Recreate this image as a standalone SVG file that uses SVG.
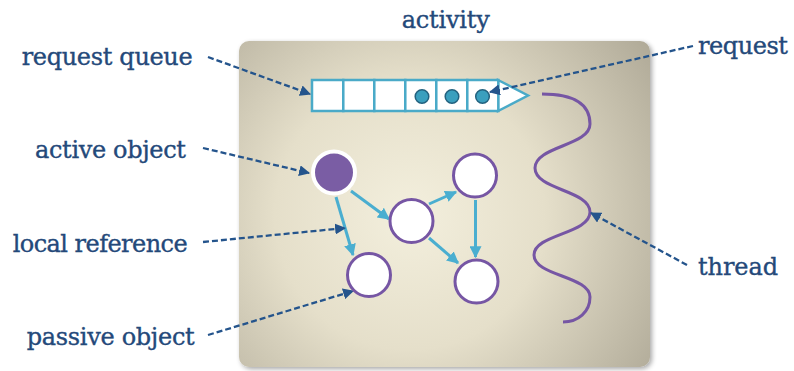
<svg xmlns="http://www.w3.org/2000/svg" width="794" height="371" viewBox="0 0 794 371">
<defs>
<radialGradient id="bg" cx="410" cy="215" r="300" gradientUnits="userSpaceOnUse">
<stop offset="0" stop-color="#f3efdd"/>
<stop offset="0.45" stop-color="#e5dfca"/>
<stop offset="1" stop-color="#aea896"/>
</radialGradient>
<filter id="sh" x="-5%" y="-5%" width="112%" height="112%">
<feGaussianBlur in="SourceAlpha" stdDeviation="2.5"/>
<feOffset dx="2" dy="2" result="b"/>
<feComponentTransfer><feFuncA type="linear" slope="0.35"/></feComponentTransfer>
<feMerge><feMergeNode/><feMergeNode in="SourceGraphic"/></feMerge>
</filter>
<marker id="dh" viewBox="0 0 10 10" refX="9" refY="5" markerWidth="11" markerHeight="11" markerUnits="userSpaceOnUse" orient="auto">
<path d="M0,0 L10,5 L0,10 z" fill="#24548c"/>
</marker>
<marker id="th" viewBox="0 0 10 10" refX="9" refY="5" markerWidth="12" markerHeight="12" markerUnits="userSpaceOnUse" orient="auto">
<path d="M0,0 L10,5 L0,10 z" fill="#4aaed0"/>
</marker>
</defs>
<style>
.lbl{font-family:"DejaVu Serif","Liberation Serif",serif;font-size:24px;fill:#24497a;stroke:#24497a;stroke-width:0.35}
.lead{fill:none;stroke:#24548c;stroke-width:2.3;stroke-dasharray:6 3;marker-end:url(#dh)}
.ref{fill:none;stroke:#4aaed0;stroke-width:3;marker-end:url(#th)}
.cell{fill:#ffffff;stroke:#4aaac8;stroke-width:2.5}
.msg{fill:#3a9fbe;stroke:#23627f;stroke-width:1.5}
.pobj{fill:#ffffff;stroke:#7656a4;stroke-width:3}
</style>
<rect id="activity-box" x="239" y="41" width="411" height="326" rx="10" fill="url(#bg)" filter="url(#sh)"/>
<g id="activity-label"><text class="lbl" x="401.7" y="28" textLength="88">activity</text></g>
<g id="request-queue">
<path d="M498,80 L528,95.5 L498,111 z" class="cell"/>
<rect class="cell" x="312" y="80" width="31.3" height="31"/>
<rect class="cell" x="343.3" y="80" width="31" height="31"/>
<rect class="cell" x="374.3" y="80" width="31" height="31"/>
<rect class="cell" x="405.3" y="80" width="31" height="31"/>
<rect class="cell" x="436.3" y="80" width="31" height="31"/>
<rect class="cell" x="467.3" y="80" width="31" height="31"/>
<circle class="msg" cx="422" cy="96.5" r="6.8"/>
<circle class="msg" cx="452" cy="96.5" r="6.8"/>
<circle class="msg" cx="482.5" cy="96.5" r="6.8"/>
</g>
<g id="thread"><path d="M542,94 C575,94 590,105 590,124 C590,146 535,146 535,168 C535,190 590,190 590,212 C590,234 534,234 534,255 C534,276 590,276 590,297 C590,312 578,322 563,322" fill="none" stroke="#7656a4" stroke-width="3"/></g>
<g id="connectors">
<line class="ref" x1="351" y1="191" x2="389" y2="219"/>
<line class="ref" x1="336" y1="197" x2="353" y2="255"/>
<line class="ref" x1="429" y1="204" x2="456" y2="192"/>
<line class="ref" x1="429" y1="238" x2="458" y2="263"/>
<line class="ref" x1="475.5" y1="200" x2="475.5" y2="257"/>
<path class="lead" d="M208,57 L310,94"/>
<path class="lead" d="M203,148 L309,173"/>
<path class="lead" d="M203,242 L345,228"/>
<path class="lead" d="M208,335 L353,291"/>
<path class="lead" d="M693,46 L490,92"/>
<path class="lead" d="M687,265 L591,213"/>
</g>
<g id="active-object"><circle cx="334" cy="172.5" r="21" fill="#7a5da4" stroke="#ffffff" stroke-width="4"/></g>
<g id="obj-mid"><circle class="pobj" cx="411.5" cy="221" r="21.5"/></g>
<g id="obj-top"><circle class="pobj" cx="475" cy="175.5" r="21.5"/></g>
<g id="obj-bl"><circle class="pobj" cx="369" cy="275" r="21.5"/></g>
<g id="obj-br"><circle class="pobj" cx="476.5" cy="281.5" r="21.5"/></g>
<g id="labels">
<text class="lbl" x="21.7" y="65" textLength="171">request queue</text>
<text class="lbl" x="35" y="158" textLength="151">active object</text>
<text class="lbl" x="12.7" y="251.5" textLength="175">local reference</text>
<text class="lbl" x="26.7" y="345" textLength="168">passive object</text>
<text class="lbl" x="698" y="53.5" textLength="90">request</text>
<text class="lbl" x="698" y="275" textLength="80">thread</text>
</g>
</svg>
